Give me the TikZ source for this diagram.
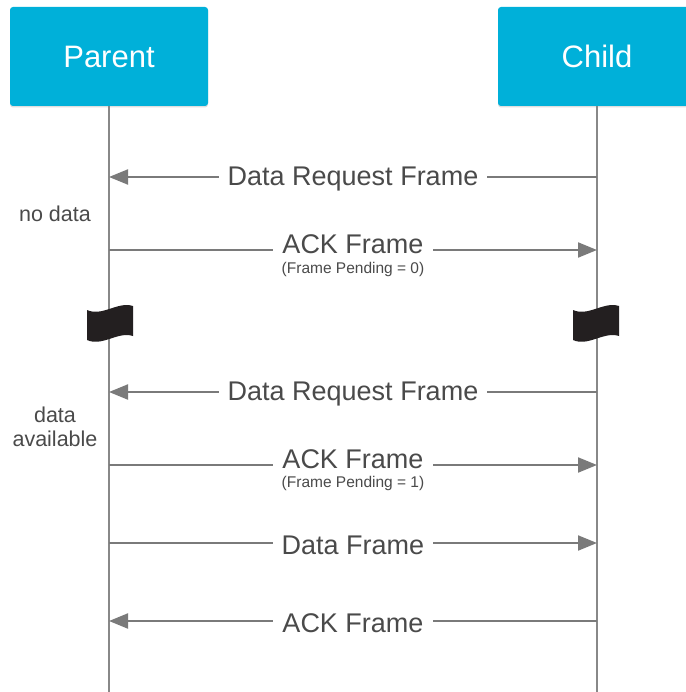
\documentclass[tikz,border=0pt]{standalone}
\usepackage{fontspec}
\setmainfont{Liberation Sans}
\usetikzlibrary{arrows.meta,shadows,calc}
\definecolor{actorblue}{HTML}{00B0D9}
\definecolor{msgtext}{HTML}{4A4A4A}
\definecolor{msgline}{HTML}{7A7A7A}
\definecolor{lifegray}{HTML}{888888}
\definecolor{flagfill}{HTML}{231F20}
\tikzset{
  actor/.style={fill=actorblue, rounded corners=3pt, minimum width=198pt, minimum height=99pt,
    text=white, font=\fontsize{31}{36}\selectfont, inner sep=0pt,
    drop shadow={shadow xshift=0pt, shadow yshift=-1.5pt, opacity=0.25}},
  lifeline/.style={draw=lifegray, line width=2pt},
  msg/.style={draw=msgline, line width=2pt, -{Triangle[length=19pt,width=15pt]}},
  msglabel/.style={fill=white, text=msgtext, font=\fontsize{27}{32}\selectfont, inner xsep=9pt, inner ysep=2pt},
  sublabel/.style={text=msgtext, font=\fontsize{15.5}{18}\selectfont, inner sep=0pt},
  state/.style={text=msgtext, font=\fontsize{21.5}{26}\selectfont, align=center, inner sep=0pt},
  flagmark/.pic={
    \fill[flagfill] (-23,-14) .. controls (-8,-7) and (8,-23) .. (23,-18)
      -- (23,12) .. controls (8,7) and (-8,23) .. (-23,16) -- cycle;
  }
}
\begin{document}
\begin{tikzpicture}[x=1pt,y=-1pt]
\useasboundingbox[fill=white] (0,0) rectangle (685,692);

% participants
\node[actor] (parent) at (109,56.5) {Parent};
\node[actor] (child) at (597,56.5) {Child};

% lifelines
\coordinate (pEnd) at (109,692);
\coordinate (cEnd) at (597,692);
\draw[lifeline] (parent.south) -- (pEnd);
\draw[lifeline] (child.south) -- (cEnd);

% message anchors on the lifelines
\foreach \n/\y in {1/177, 2/250, 3/392, 4/465, 5/543, 6/621} {
  \coordinate (p\n) at (109,\y);
  \coordinate (c\n) at (597,\y);
}

% first poll: no data pending
\draw[msg] (c1) -- (p1);
\node[msglabel] (m1) at ($(p1)!0.5!(c1) + (0,2.5)$) {Data Request Frame};
\node[state] (nodata) at (55,214) {no data};
\draw[msg] (p2) -- (c2);
\node[msglabel] (m2) at ($(p2)!0.5!(c2) + (0,-6)$) {ACK Frame};
\node[sublabel] (s2) at ($(p2)!0.5!(c2) + (0,19)$) {(Frame Pending = 0)};

% time break
\pic at (110,324) {flagmark};
\pic at (596,324) {flagmark};

% second poll: data available
\draw[msg] (c3) -- (p3);
\node[msglabel] (m3) at ($(p3)!0.5!(c3) + (0,2.5)$) {Data Request Frame};
\node[state] (avail) at (55,427) {data\\[-2pt]available};
\draw[msg] (p4) -- (c4);
\node[msglabel] (m4) at ($(p4)!0.5!(c4) + (0,-6)$) {ACK Frame};
\node[sublabel] (s4) at ($(p4)!0.5!(c4) + (0,18)$) {(Frame Pending = 1)};
\draw[msg] (p5) -- (c5);
\node[msglabel] (m5) at ($(p5)!0.5!(c5) + (0,2.5)$) {Data Frame};
\draw[msg] (c6) -- (p6);
\node[msglabel] (m6) at ($(p6)!0.5!(c6) + (0,2.5)$) {ACK Frame};
\end{tikzpicture}
\end{document}
